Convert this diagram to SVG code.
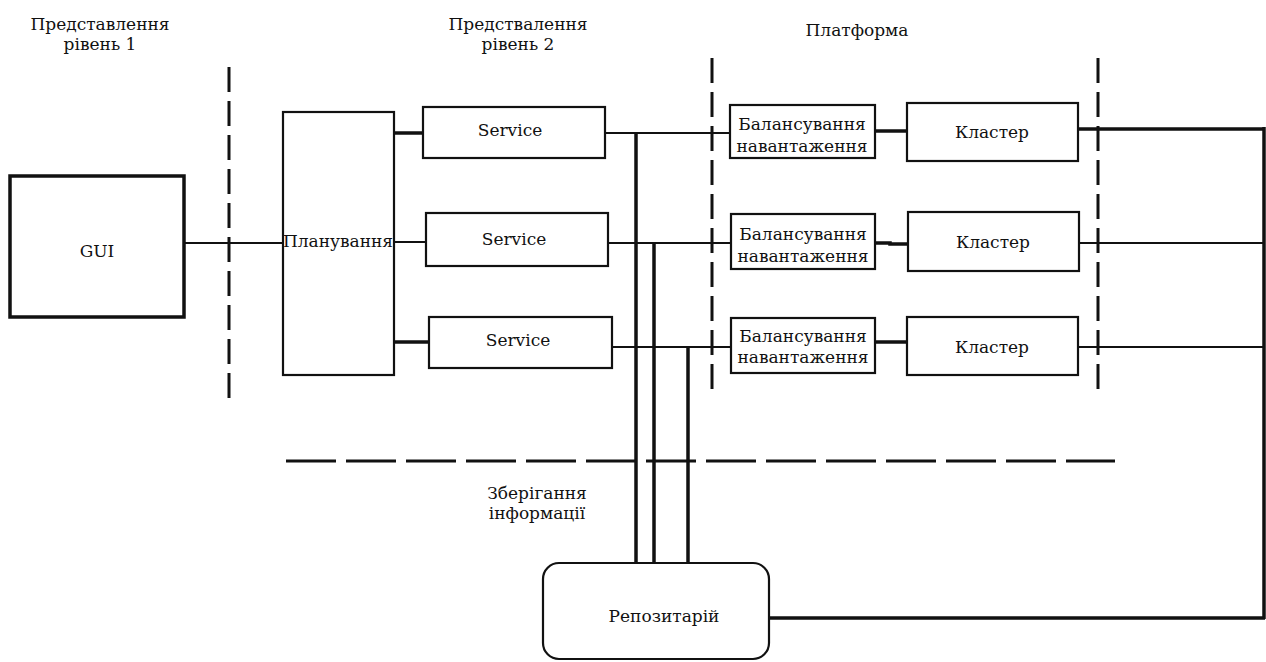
<svg xmlns="http://www.w3.org/2000/svg" width="1266" height="662" viewBox="0 0 1266 662">
<style>
text{font-family:'DejaVu Serif',serif;font-size:17px;fill:#111;text-anchor:middle}
.box{fill:#fff;stroke:#111;stroke-width:2.2}
.thick{fill:#fff;stroke:#111;stroke-width:3.5}
.ln{stroke:#111;stroke-width:2;fill:none}
.lt{stroke:#111;stroke-width:3.5;fill:none}
.dv{stroke:#111;stroke-width:3;stroke-dasharray:25 9;fill:none}
.dh{stroke:#111;stroke-width:3;stroke-dasharray:50 10;fill:none}
</style>
<rect width="1266" height="662" fill="#fff"/>
<g id="separators">
<line class="dv" x1="229" y1="67" x2="229" y2="403"/>
<line class="dv" x1="712" y1="58" x2="712" y2="393"/>
<line class="dv" x1="1098" y1="58" x2="1098" y2="392"/>
<line class="dh" x1="286" y1="461" x2="1115" y2="461"/>
</g>
<g id="labels">
<text x="100" y="30">Представлення</text>
<text x="100" y="50">рівень 1</text>
<text x="518" y="30">Предствалення</text>
<text x="518" y="50">рівень 2</text>
<text x="857" y="36">Платформа</text>
<text x="537" y="499">Зберігання</text>
<text x="537" y="519">інформації</text>
</g>
<g id="connectors">
<line class="ln" x1="184" y1="243" x2="283" y2="243"/>
<line class="lt" x1="394" y1="133" x2="423" y2="133"/>
<line class="ln" x1="394" y1="242" x2="426" y2="242"/>
<line class="lt" x1="394" y1="342" x2="429" y2="342"/>
<line class="ln" x1="605" y1="133" x2="730" y2="133"/>
<line class="ln" x1="608" y1="243" x2="731" y2="243"/>
<line class="ln" x1="612" y1="347" x2="731" y2="347"/>
<line class="lt" x1="636" y1="133" x2="636" y2="563"/>
<line class="lt" x1="654" y1="242" x2="654" y2="563"/>
<line class="lt" x1="688" y1="347" x2="688" y2="563"/>
<line class="lt" x1="875" y1="131" x2="907" y2="131"/>
<polyline class="lt" points="875,243 890,243 890,244 908,244"/>
<line class="lt" x1="875" y1="342" x2="907" y2="342"/>
<line class="lt" x1="1078" y1="129" x2="1264" y2="129"/>
<line class="ln" x1="1079" y1="243" x2="1264" y2="243"/>
<line class="ln" x1="1078" y1="347" x2="1264" y2="347"/>
<line class="lt" x1="1264" y1="127" x2="1264" y2="619"/>
<line class="lt" x1="769" y1="618" x2="1265" y2="618"/>
</g>
<g id="gui">
<rect class="thick" x="10" y="176" width="174" height="141"/>
<text x="97" y="257">GUI</text>
</g>
<g id="planning">
<rect class="box" x="283" y="112" width="111" height="263"/>
<text x="338" y="247">Планування</text>
</g>
<g id="service1">
<rect class="box" x="423" y="107" width="182" height="51"/>
<text x="510" y="136">Service</text>
</g>
<g id="service2">
<rect class="box" x="426" y="213" width="182" height="53"/>
<text x="514" y="245">Service</text>
</g>
<g id="service3">
<rect class="box" x="429" y="317" width="183" height="51"/>
<text x="518" y="346">Service</text>
</g>
<g id="balance1">
<rect class="box" x="730" y="105" width="145" height="53"/>
<text x="802" y="130">Балансування</text>
<text x="802" y="152">навантаження</text>
</g>
<g id="balance2">
<rect class="box" x="731" y="214" width="144" height="55"/>
<text x="803" y="240">Балансування</text>
<text x="803" y="262">навантаження</text>
</g>
<g id="balance3">
<rect class="box" x="731" y="318" width="144" height="55"/>
<text x="803" y="342">Балансування</text>
<text x="803" y="363">навантаження</text>
</g>
<g id="cluster1">
<rect class="box" x="907" y="103" width="171" height="58"/>
<text x="992" y="138">Кластер</text>
</g>
<g id="cluster2">
<rect class="box" x="908" y="212" width="171" height="59"/>
<text x="993" y="248">Кластер</text>
</g>
<g id="cluster3">
<rect class="box" x="907" y="317" width="171" height="58"/>
<text x="992" y="353">Кластер</text>
</g>
<g id="repository">
<rect class="box" x="543" y="563" width="226" height="96" rx="16" ry="16"/>
<text x="664" y="622">Репозитарій</text>
</g>
</svg>
